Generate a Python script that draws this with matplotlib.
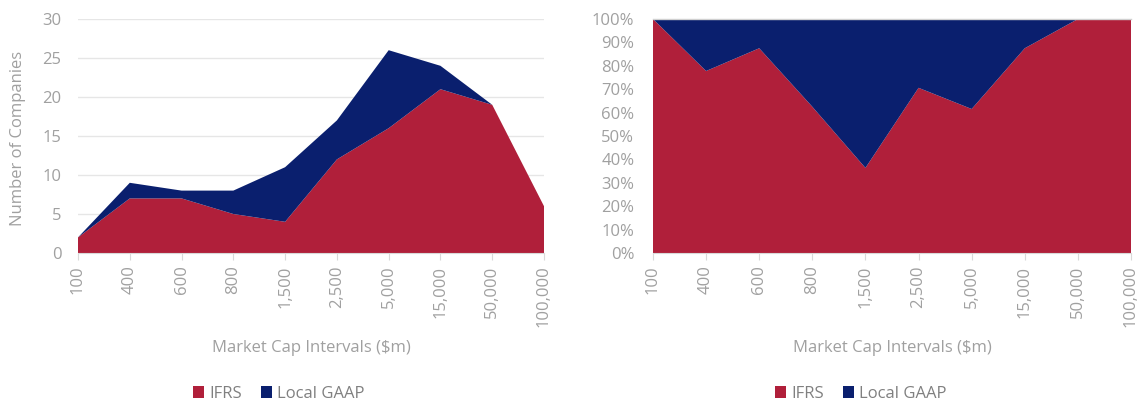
import matplotlib
matplotlib.use("Agg")
import matplotlib.pyplot as plt
from matplotlib.patches import Patch
from matplotlib.ticker import FuncFormatter
import numpy as np

categories = ["100", "400", "600", "800", "1,500", "2,500", "5,000", "15,000", "50,000", "100,000"]
ifrs = [2, 7, 7, 5, 4, 12, 16, 21, 19, 6]
local_gaap = [0, 2, 1, 3, 7, 5, 10, 3, 0, 0]

RED = "#B01F3A"
NAVY = "#0A1F6E"
TXT = "#A0A0A0"
GRID = "#E6E6E6"

plt.rcParams['font.family'] = ['Open Sans', 'DejaVu Sans']

fig = plt.figure(figsize=(11.43, 4.05), dpi=100)
ax1 = fig.add_axes([78/1143, 1-253/405, (544-78)/1143, (253-19)/405])
ax2 = fig.add_axes([653/1143, 1-253/405, (1131-653)/1143, (253-19)/405])

x = np.arange(len(categories))
ifrs_a = np.array(ifrs, dtype=float)
loc_a = np.array(local_gaap, dtype=float)

# Left: stacked area
ax1.stackplot(x, ifrs_a, loc_a, colors=[RED, NAVY], linewidth=0, zorder=2)
ax1.set_ylim(0, 30)
ax1.set_yticks(range(0, 31, 5))
ax1.yaxis.grid(True, color=GRID, linewidth=1, zorder=0)
ax1.set_ylabel("Number of Companies", color=TXT, fontsize=12, va="center")
ax1.yaxis.set_label_coords((18-78)/466, 0.49)
ax1.tick_params(axis="y", colors=TXT, labelsize=12, length=0, pad=12)

# Right: 100% stacked area
tot = ifrs_a + loc_a
ax2.stackplot(x, ifrs_a / tot * 100, loc_a / tot * 100, colors=[RED, NAVY], linewidth=0, zorder=2)
ax2.set_ylim(0, 100)
ax2.set_yticks(range(0, 101, 10))
ax2.yaxis.set_major_formatter(FuncFormatter(lambda v, p: f"{int(v)}%"))
ax2.yaxis.grid(True, color=GRID, linewidth=1, zorder=0)
ax2.axhline(100, color="#D0D0D0", linewidth=1, zorder=3, clip_on=False)
ax2.tick_params(axis="y", colors=TXT, labelsize=12, length=0, pad=13.5)

for ax, w, left, lx in ((ax1, 466, 78, 279), (ax2, 478, 653, 861)):
    ax.set_axisbelow(True)
    ax.set_xlim(0, len(categories) - 1)
    ax.set_xticks(x)
    ax.set_xticklabels(categories, rotation=90)
    for s in ("top", "right", "left"):
        ax.spines[s].set_visible(False)
    ax.spines["bottom"].set_color("#D9D9D9")
    ax.spines["bottom"].set_zorder(3)
    ax.tick_params(axis="x", colors=TXT, labelsize=12, length=5, color="#D9D9D9", pad=4)
    ax.set_xlabel("Market Cap Intervals ($m)", color=TXT, fontsize=12, va="center")
    ax.xaxis.set_label_coords(0.5, -(348-253)/234)
    handles = [Patch(facecolor=RED, label="IFRS"), Patch(facecolor=NAVY, label="Local GAAP")]
    ax.legend(handles=handles, loc="center", bbox_to_anchor=((lx-left)/w, -(394-253)/234), ncol=2,
              frameon=False, fontsize=12, labelcolor="#808080", handlelength=0.65,
              handleheight=0.75, handletextpad=0.35, columnspacing=1.1,
              borderpad=0, borderaxespad=0)

fig.savefig("out.png", dpi=100, facecolor="white")
